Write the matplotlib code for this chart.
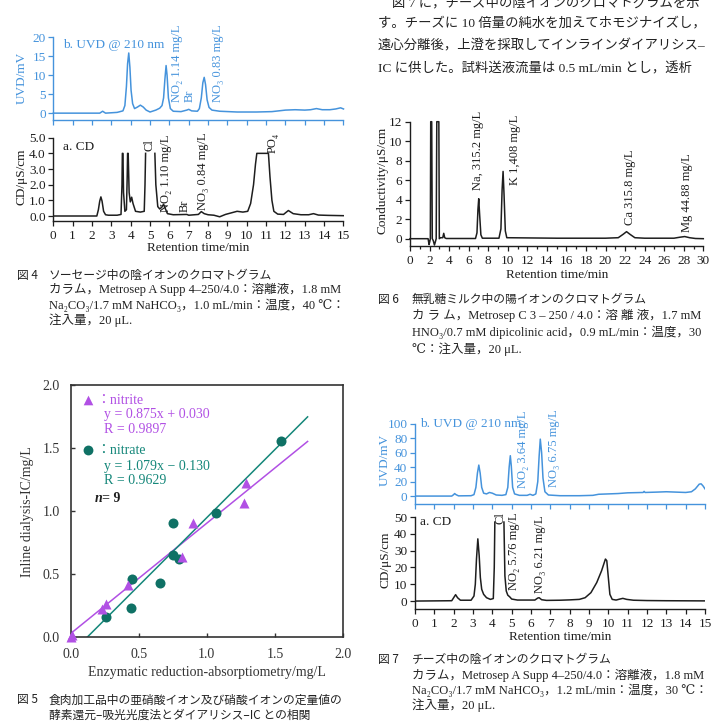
import numpy as np
import matplotlib
matplotlib.use('Agg')
import matplotlib.pyplot as plt
from matplotlib.ticker import MultipleLocator, FixedLocator

# ---------------- data ----------------
# Fig.4  sausage anions  (b) UVD 210 nm
fig4_uvd_t = [0, 2.4, 2.55, 2.7, 3.3, 3.6, 3.7, 3.78, 3.84, 3.9, 3.96, 4.02, 4.1, 4.2, 4.35, 4.5, 4.65, 4.8, 5.0,
              5.3, 5.5, 5.62, 5.7, 5.77, 5.83, 5.88, 5.95, 6.05, 6.2, 6.6, 6.9, 7.0, 7.15, 7.45, 7.55, 7.65, 7.73,
              7.8, 7.87, 7.95, 8.05, 8.2, 8.6, 9.5, 10.5, 11.3, 12.0, 12.5, 13.0, 13.3, 13.6, 13.9, 14.3, 14.6, 14.85, 15.0]
fig4_uvd_y = [0, 0, 0.5, 0, 0.2, 0.6, 2, 7, 13, 15.8, 12, 6, 2.5, 1.2, 1.6, 2.1, 1.6, 0.8, 0.3,
              0.8, 1.3, 2.0, 4, 9, 12.5, 10, 4, 1.2, 0.5, 0.4, 0.8, 1.0, 0.6, 0.5, 1.2, 4, 8,
              9.4, 7.5, 3.5, 1.5, 0.8, 0.5, 0.3, 0.3, 0.4, 0.8, 0.9, 0.8, 0.9, 1.2, 0.9, 0.9, 1.1, 1.4, 1.1]
# Fig.4  (a) conductivity (off-scale tops cut at 4.0)
fig4_cd_t = [0, 2.25, 2.33, 2.4, 2.46, 2.52, 2.6, 2.7, 2.85, 3.3, 3.5, 3.55, 3.57, 3.6, 3.63, 3.7, 3.78, 3.82,
             3.84, 3.87, 3.92, 3.98, 4.05, 4.12, 4.25, 4.5, 4.7, 4.74, 4.77, np.nan, 5.25, 5.3, 5.4, 5.5, 5.6,
             5.7, 5.78, 5.9, 6.2, 6.9, 7.0, 7.5, 7.65, 7.8, 8.0, 8.3, 8.6, 8.9, 9.2, 9.5, 9.8, 10.05, 10.2,
             10.35, 10.45, 10.52, 11.12, 11.2, 11.3, 11.4, 11.6, 11.9, 12.15, 12.4, 12.8, 13.2, 13.45, 13.7, 14.2, 15.0]
fig4_cd_y = [0, 0, 0.4, 0.95, 1.22, 0.95, 0.3, 0.08, 0.05, 0.05, 0.1, 2.0, 4.0, 4.0, 1.5, 0.3, 0.4, 2.5,
             4.0, 4.0, 1.5, 0.9, 1.2, 0.8, 0.3, 0.25, 0.3, 2.0, 4.0, np.nan, 4.0, 2.0, 0.6, 0.45, 0.55,
             0.75, 0.5, 0.15, 0.08, 0.1, 0.05, 0.1, 0.28, 0.15, 0.08, 0.05, -0.05, 0.1, 0.2, 0.3, 0.25, 0.3, 0.8,
             2.0, 3.3, 4.0, 4.0, 2.5, 1.0, 0.3, 0.12, 0.1, 0.35, 0.15, 0.08, 0.08, 0.15, 0.06, 0.04, 0.02]

# Fig.5  method comparison
nitrite_x = [0.0, 0.01, 0.227, 0.259, 0.423, 0.819, 0.895, 1.274, 1.291]
nitrite_y = [0.0, 0.02, 0.222, 0.264, 0.415, 0.639, 0.903, 1.062, 1.221]
nitrate_x = [0.259, 0.440, 0.447, 0.655, 0.753, 0.748, 0.797, 1.066, 1.543]
nitrate_y = [0.164, 0.230, 0.462, 0.428, 0.903, 0.653, 0.618, 0.988, 1.555]
nitrite_fit = (0.875, 0.030)
nitrate_fit = (1.079, -0.130)
fit_x_end = 1.74

# Fig.6  lactose-free milk cations
fig6_t = [0, 1.85, 1.95, 2.02, 2.08, 2.12, 2.22, 2.28, 2.38, 2.5, 2.6, 2.68, 2.74, 2.95, 3.0, 3.1, 3.35, 3.45,
          3.55, 3.7, 6.7, 6.85, 6.95, 7.03, 7.12, 7.25, 7.4, 9.1, 9.3, 9.42, 9.52, 9.62, 9.75, 9.9, 15, 20,
          21.3, 21.8, 22.15, 22.5, 23.0, 24, 27, 27.6, 28.1, 28.6, 29.2, 30]
fig6_y = [0, 0, -0.6, -0.3, 0, 12, 12, 0, -0.2, -0.65, -0.3, 0, 12, 12, 0, 0.1, 0.1, 0.55,
          0.1, 0.02, 0.02, 0.6, 3.0, 4.1, 2.5, 0.4, 0.05, 0.05, 1.0, 5.0, 6.9, 4.5, 0.8, 0.1, 0.05, 0.05,
          0.1, 0.45, 0.72, 0.45, 0.1, 0.05, 0.05, 0.15, 0.22, 0.1, 0.02, 0]

# Fig.7  cheese anions  (b) UVD
fig7_uvd_t = [0, 1.9, 2.0, 2.05, 2.12, 2.25, 2.9, 3.05, 3.15, 3.23, 3.3, 3.37, 3.45, 3.55, 3.7, 3.85, 4.0, 4.2,
              4.5, 4.7, 4.8, 4.87, 4.93, 4.98, 5.05, 5.15, 5.4, 5.8, 5.95, 6.1, 6.25, 6.35, 6.42, 6.48, 6.55,
              6.62, 6.72, 6.9, 7.5, 8.5, 9.2, 9.5, 10, 10.5, 11, 11.8, 11.85, 11.9, 12.5, 13, 13.5, 14, 14.3,
              14.5, 14.7, 14.8, 14.9, 15]
fig7_uvd_y = [0, 0, 2, 3.5, 2, 0.3, 0.5, 2, 12, 32, 43, 32, 12, 4, 3, 5, 4, 1.5,
              1, 2, 12, 40, 56, 42, 12, 3, 1, 1, 2.5, 1, 3, 20, 55, 79, 60,
              25, 6, 1.5, 0.5, 0.5, 1, 2.5, 3, 3.5, 4.5, 5, 6.5, 5, 5.5, 6, 5.5, 5, 6,
              10, 16.5, 17, 14, 10]
# Fig.7  (a) CD
fig7_cd_t = [0, 1.9, 2.0, 2.1, 2.2, 2.35, 2.9, 3.05, 3.12, 3.18, 3.25, 3.32, 3.38, 3.45, 3.55, 3.7, 3.9, 4.05,
             4.1, 4.13, np.nan, 4.6, 4.65, 4.72, 4.8, 4.9, 5.0, 5.3, 6.2, 6.35, 6.42, 6.55, 6.8, 7.5, 8.0, 8.5,
             8.8, 9.1, 9.4, 9.65, 9.85, 9.92, 10.0, 10.08, 10.2, 10.4, 10.6, 10.75, 10.95, 11.3, 12, 13, 15]
fig7_cd_y = [0, 0.2, 2, 3.8, 2, 0.5, 0.5, 3, 10, 25, 37, 27, 14, 7, 4, 2, 1, 1.5,
             20, 47, np.nan, 47, 15, 6, 3.5, 2.5, 1.2, 0.6, 0.6, 1.8, 2, 0.8, 0.4, 0.5, 0.7, 1.0,
             2, 5, 11, 18, 25, 24, 14, 4, 1, 0.6, 1.2, 1.6, 1.0, 0.5, 0.3, 0.2, 0.1]

# tick labels
chrom15_ticks = list(range(0, 16))
fig6_xticks = list(range(0, 31, 2))
fig4_uvd_yticks = [0, 5, 10, 15, 20]
fig4_cd_yticks = [0.0, 1.0, 2.0, 3.0, 4.0, 5.0]
fig6_yticks = [0, 2, 4, 6, 8, 10, 12]
fig7_uvd_yticks = [0, 20, 40, 60, 80, 100]
fig7_cd_yticks = [0, 10, 20, 30, 40, 50]
fig5_ticks = [0.0, 0.5, 1.0, 1.5, 2.0]

# ---------------- style ----------------
W, H = 712, 728
SERIF = ['Liberation Serif', 'DejaVu Serif', 'Noto Sans CJK JP']
JP = ['Noto Sans CJK JP', 'DejaVu Sans']
plt.rcParams['font.family'] = SERIF
BLUE = '#4593dc'
BLACK = '#1e1e1e'
VIOLET = '#b150e4'
TEAL = '#15877a'

fig = plt.figure(figsize=(W / 100, H / 100), dpi=100)


def add_ax(x0, x1, ytop, ybot):
    return fig.add_axes([x0 / W, 1 - ybot / H, (x1 - x0) / W, (ybot - ytop) / H])


def T(x, y, s, **kw):
    kw.setdefault('va', 'center')
    kw.setdefault('ha', 'left')
    return fig.text(x / W, 1 - y / H, s, **kw)


def chrom_ax(x0, x1, ytop, ybot, xlim, ylim, color, yticks, yfmt, xticks, xlabels=True, xminor=None):
    ax = add_ax(x0, x1, ytop, ybot)
    ax.set_xlim(*xlim)
    ax.set_ylim(*ylim)
    ax.patch.set_alpha(0)
    for s in ['top', 'right']:
        ax.spines[s].set_visible(False)
    for s in ['left', 'bottom']:
        ax.spines[s].set_color(color)
        ax.spines[s].set_linewidth(1.0)
    ax.tick_params(which='both', colors=color, direction='out', width=0.9, labelsize=9.5, pad=2)
    ax.tick_params(which='major', length=3.5)
    ax.tick_params(which='minor', length=2.5)
    ax.tick_params(axis='x', pad=3)
    ax.yaxis.set_major_locator(FixedLocator(yticks))
    ax.set_yticklabels([yfmt.format(v) for v in yticks])
    ax.xaxis.set_major_locator(FixedLocator(xticks))
    if xminor:
        ax.xaxis.set_minor_locator(MultipleLocator(xminor))
    if xlabels:
        ax.set_xticklabels([str(v) for v in xticks])
    else:
        ax.set_xticklabels([])
    for lab in ax.get_yticklabels() + ax.get_xticklabels():
        lab.set_color(color)
    return ax


LBL = dict(rotation=90, ha='center', va='bottom', fontsize=9, rotation_mode='default')

# ---------------- Fig.4 ----------------
ax = chrom_ax(53.3, 343.5, 37, 120, (0, 15), (-1.8, 20), BLUE, fig4_uvd_yticks, '{:d}', chrom15_ticks, xlabels=False)
ax.plot(fig4_uvd_t, fig4_uvd_y, color=BLUE, lw=1.1, clip_on=False)
ax.text(0.5, 17.9, 'b. UVD @ 210 nm', color=BLUE, fontsize=9.5, va='center')
ax.text(6.38, 3.0, 'NO\u2082 1.14 mg/L', color=BLUE, clip_on=False, **LBL)
ax.text(7.07, 3.0, 'Br', color=BLUE, **LBL)
ax.text(8.53, 3.0, 'NO\u2083 0.83 mg/L', color=BLUE, clip_on=False, **LBL)
T(22, 78, 'UVD/mV', rotation=90, ha='center', color=BLUE, fontsize=9.5)

ax = chrom_ax(53.3, 343.5, 137.7, 220.7, (0, 15), (-0.3, 5.0), BLACK, fig4_cd_yticks, '{:.1f}', chrom15_ticks)
ax.plot(fig4_cd_t, fig4_cd_y, color=BLACK, lw=1.1)
ax.text(0.5, 4.4, 'a. CD', color=BLACK, fontsize=9.5, va='center')
ax.text(4.98, 4.15, 'Cl', color=BLACK, **LBL)
ax.text(5.81, 0.27, 'NO\u2082 1.10 mg/L', color=BLACK, clip_on=False, **LBL)
ax.text(6.8, 0.27, 'Br', color=BLACK, **LBL)
ax.text(7.72, 0.38, 'NO\u2083 0.84 mg/L', color=BLACK, clip_on=False, **LBL)
ax.text(11.35, 4.05, 'PO\u2084', color=BLACK, **LBL)
T(22, 177, 'CD/\u03bcS/cm', rotation=90, ha='center', color=BLACK, fontsize=9.5)
T(198, 248, 'Retention time/min', ha='center', color=BLACK, fontsize=9.5)

# captions Fig.4
CAP = dict(fontsize=8.5, color='#222222')
BODY = dict(fontsize=9, color='#222222', family=SERIF)
T(17, 275, '図 4', family=JP, **CAP)
T(49, 275, 'ソーセージ中の陰イオンのクロマトグラム', family=JP, **CAP)
T(49, 290, 'カラム，Metrosep A Supp 4\u2013250/4.0：溶離液，1.8 mM', **BODY)
T(49, 305, 'Na\u2082CO\u2083/1.7 mM NaHCO\u2083，1.0 mL/min：温度，40 ℃：', **BODY)
T(49, 320, '注入量，20 \u03bcL.', **BODY)

# ---------------- Fig.5 ----------------
ax = add_ax(70.7, 343, 385, 637.3)
ax.set_xlim(0, 2)
ax.set_ylim(0, 2)
for s in ax.spines.values():
    s.set_color('#333333')
    s.set_linewidth(1.2)
ax.xaxis.set_major_locator(FixedLocator(fig5_ticks))
ax.yaxis.set_major_locator(FixedLocator(fig5_ticks))
ax.set_xticklabels(['{:.1f}'.format(v) for v in fig5_ticks])
ax.set_yticklabels(['{:.1f}'.format(v) for v in fig5_ticks])
ax.tick_params(direction='in', length=3, width=1.0, labelsize=10, colors='#333333')
ax.tick_params(axis='x', pad=8)
ax.tick_params(axis='y', pad=8)
fx = np.array([0, fit_x_end])
ax.plot(fx, nitrite_fit[0] * fx + nitrite_fit[1], color=VIOLET, lw=1.1)
x0n = -nitrate_fit[1] / nitrate_fit[0]
fx2 = np.array([x0n, fit_x_end])
ax.plot(fx2, nitrate_fit[0] * fx2 + nitrate_fit[1], color=TEAL, lw=1.1)
ax.scatter(nitrate_x, nitrate_y, s=52, marker='o', color='#0f7165', zorder=3, clip_on=False, linewidths=0)
ax.scatter(nitrite_x, nitrite_y, s=52, marker='^', color=VIOLET, zorder=4, clip_on=False, linewidths=0)
ax.scatter([0.129], [1.879], s=48, marker='^', color=VIOLET, clip_on=False, linewidths=0)
ax.scatter([0.129], [1.482], s=50, marker='o', color='#0f7165', clip_on=False, linewidths=0)
ax.text(0.19, 1.879, '：nitrite', color=VIOLET, fontsize=10, va='center', family=SERIF)
ax.text(0.245, 1.767, 'y = 0.875x + 0.030', color=VIOLET, fontsize=10, va='center')
ax.text(0.245, 1.647, 'R = 0.9897', color=VIOLET, fontsize=10, va='center')
ax.text(0.19, 1.480, '：nitrate', color=TEAL, fontsize=10, va='center', family=SERIF)
ax.text(0.245, 1.355, 'y = 1.079x \u2212 0.130', color=TEAL, fontsize=10, va='center')
ax.text(0.245, 1.244, 'R = 0.9629', color=TEAL, fontsize=10, va='center')
ax.text(0.175, 1.098, 'n', color=BLACK, fontsize=10, va='center', fontweight='bold', style='italic')
ax.text(0.228, 1.098, '= 9', color=BLACK, fontsize=10, va='center', fontweight='bold')
ax.set_xlabel('Enzymatic reduction-absorptiometry/mg/L', fontsize=10, color='#333333', labelpad=3)
ax.set_ylabel('Inline dialysis-IC/mg/L', fontsize=10, color='#333333', labelpad=6)

T(17, 700, '図 5', family=JP, **CAP)
T(49, 700, '食肉加工品中の亜硝酸イオン及び硝酸イオンの定量値の', family=JP, **CAP)
T(49, 715, '酵素還元\u2013吸光光度法とダイアリシス\u2013IC との相関', family=JP, **CAP)

# ---------------- paragraph (top right) ----------------
PAR = dict(fontsize=9.6, color='#222222', family=SERIF)
T(392, 3, '図 7 に，チーズ中の陰イオンのクロマトグラムを示', **PAR)
T(378, 23, 'す。チーズに 10 倍量の純水を加えてホモジナイズし，', **PAR)
T(378, 46, '遠心分離後，上澄を採取してインラインダイアリシス\u2013', **PAR)
T(378, 69, 'IC に供した。試料送液流量は 0.5 mL/min とし，透析', **PAR)

# ---------------- Fig.6 ----------------
ax = chrom_ax(410, 703.3, 121.7, 246, (0, 30), (-0.75, 12), BLACK, fig6_yticks, '{:d}', fig6_xticks, xminor=1)
ax.plot(fig6_t, fig6_y, color=BLACK, lw=1.1, clip_on=False)
ax.text(7.0, 5.0, 'Na, 315.2 mg/L', color=BLACK, clip_on=False, **LBL)
ax.text(10.74, 5.5, 'K 1,408 mg/L', color=BLACK, clip_on=False, **LBL)
ax.text(22.5, 1.4, 'Ca 315.8 mg/L', color=BLACK, **LBL)
ax.text(28.3, 0.7, 'Mg 44.88 mg/L', color=BLACK, **LBL)
T(383, 180, 'Conductivity/\u03bcS/cm', rotation=90, ha='center', color=BLACK, fontsize=9.5)
T(557, 275, 'Retention time/min', ha='center', color=BLACK, fontsize=9.5)

T(378, 299, '図 6', family=JP, **CAP)
T(412, 299, '無乳糖ミルク中の陽イオンのクロマトグラム', family=JP, **CAP)
T(412, 316, 'カ ラ ム，Metrosep C 3 \u2013 250 / 4.0：溶 離 液，1.7 mM', **BODY)
T(412, 332, 'HNO\u2083/0.7 mM dipicolinic acid，0.9 mL/min：温度，30', **BODY)
T(412, 349, '℃：注入量，20 \u03bcL.', **BODY)

# ---------------- Fig.7 ----------------
ax = chrom_ax(415, 705, 424, 504, (0, 15), (-11, 100), BLUE, fig7_uvd_yticks, '{:d}', chrom15_ticks, xlabels=False)
ax.plot(fig7_uvd_t, fig7_uvd_y, color=BLUE, lw=1.1)
ax.text(0.26, 100, 'b. UVD @ 210 nm', color=BLUE, fontsize=9.5, va='center')
ax.text(5.6, 10.6, 'NO\u2082 3.64 mg/L', color=BLUE, clip_on=False, **LBL)
ax.text(7.2, 13, 'NO\u2083 6.75 mg/L', color=BLUE, clip_on=False, **LBL)
T(385, 460, 'UVD/mV', rotation=90, ha='center', color=BLUE, fontsize=9.5)

ax = chrom_ax(415, 705, 517, 609.3, (0, 15), (-4.9, 50), BLACK, fig7_cd_yticks, '{:d}', chrom15_ticks)
ax.plot(fig7_cd_t, fig7_cd_y, color=BLACK, lw=1.1)
ax.text(0.26, 47, 'a. CD', color=BLACK, fontsize=9.5, va='center')
ax.text(4.4, 46, 'Cl', color=BLACK, clip_on=False, **LBL)
ax.text(5.12, 6.5, 'NO\u2082 5.76 mg/L', color=BLACK, clip_on=False, **LBL)
ax.text(6.47, 4.6, 'NO\u2083 6.21 mg/L', color=BLACK, clip_on=False, **LBL)
T(385, 560, 'CD/\u03bcS/cm', rotation=90, ha='center', color=BLACK, fontsize=9.5)
T(560, 637, 'Retention time/min', ha='center', color=BLACK, fontsize=9.5)

T(378, 659, '図 7', family=JP, **CAP)
T(412, 659, 'チーズ中の陰イオンのクロマトグラム', family=JP, **CAP)
T(412, 675, 'カラム，Metrosep A Supp 4\u2013250/4.0：溶離液，1.8 mM', **BODY)
T(412, 690, 'Na\u2082CO\u2083/1.7 mM NaHCO\u2083，1.2 mL/min：温度，30 ℃：', **BODY)
T(412, 705, '注入量，20 \u03bcL.', **BODY)

fig.savefig('out.png', dpi=100)
